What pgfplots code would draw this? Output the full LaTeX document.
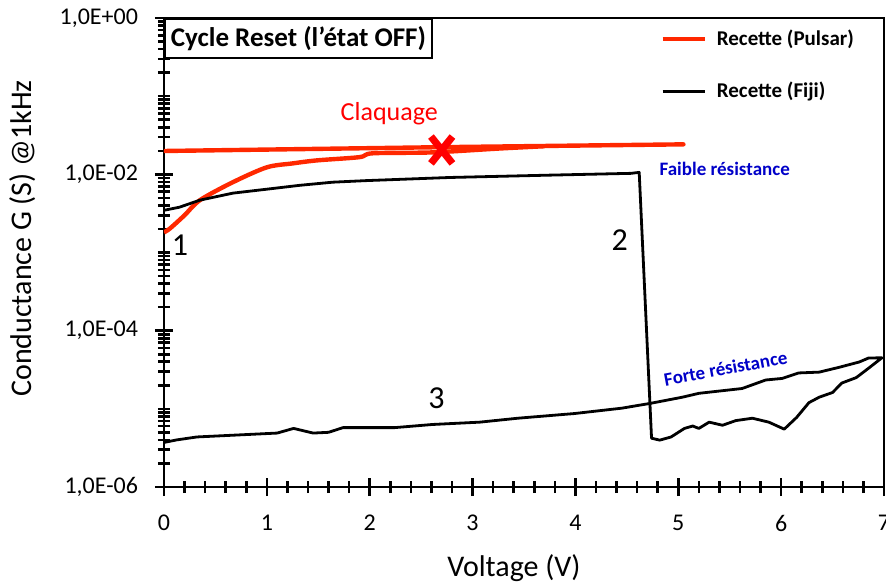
\documentclass[border=0pt]{standalone}
\usepackage{fontspec}
\setmainfont{Carlito}
\usepackage{pgfplots}
\pgfplotsset{compat=1.18}
\definecolor{pulsar}{RGB}{255,40,0}
\definecolor{claq}{RGB}{255,0,0}
\definecolor{annot}{RGB}{0,0,200}

\begin{document}
\begin{tikzpicture}
\begin{axis}[
    scale only axis,
    width=360pt, height=234.5pt,
    xmin=0, xmax=7,
    ymode=log, ymin=1e-6, ymax=1,
    xtick={0,1,2,3,4,5,6,7},
    minor xtick={0.2,0.4,0.6,0.8,1.2,1.4,1.6,1.8,2.2,2.4,2.6,2.8,3.2,3.4,3.6,3.8,
                 4.2,4.4,4.6,4.8,5.2,5.4,5.6,5.8,6.2,6.4,6.6,6.8},
    ytick={1e-6,1e-4,1e-2,1},
    yticklabels={{1,0E-06},{1,0E-04},{1,0E-02},{1,0E+00}},
    minor ytick={2e-6,3e-6,4e-6,5e-6,6e-6,7e-6,8e-6,9e-6,1e-5,
                 2e-5,3e-5,4e-5,5e-5,6e-5,7e-5,8e-5,9e-5,
                 2e-4,3e-4,4e-4,5e-4,6e-4,7e-4,8e-4,9e-4,1e-3,
                 2e-3,3e-3,4e-3,5e-3,6e-3,7e-3,8e-3,9e-3,
                 2e-2,3e-2,4e-2,5e-2,6e-2,7e-2,8e-2,9e-2,1e-1,
                 2e-1,3e-1,4e-1,5e-1,6e-1,7e-1,8e-1,9e-1},
    xtick pos=left, ytick pos=left,
    tick align=center,
    major tick length=9pt, minor tick length=6pt,
    tick style={black, line width=1.3pt},
    axis line style={line width=1.4pt},
    /pgf/number format/assume math mode=true,
    xticklabel style={font=\fontsize{12}{14}\selectfont, yshift=-6pt},
    yticklabel style={font=\fontsize{12}{14}\selectfont, xshift=-5pt},
    xlabel={Voltage (V)},
    ylabel={Conductance G (S) @1kHz},
    xlabel style={font=\fontsize{15}{18}\selectfont, at={(axis description cs:0.486,-0.173)}, anchor=center},
    ylabel style={font=\fontsize{15}{18}\selectfont, at={(axis description cs:-0.197,0.53)}, anchor=center},
    legend style={at={(rel axis cs:0.689,0.985)}, anchor=north west, draw=none, fill=none,
        font=\fontsize{10.5}{12}\selectfont\bfseries, row sep=13pt, column sep=3pt, inner sep=0pt},
    legend cell align=left,
    legend image code/.code={\draw[#1] (0pt,0pt) -- (21pt,0pt);},
]
% Recette (Pulsar): montee puis palier
\addplot[pulsar, line width=2.2pt, smooth] coordinates {
 (0,1.81e-3) (0.06,2.04e-3) (0.2,3.0e-3) (0.35,4.68e-3) (0.67,7.94e-3)
 (1.0,1.23e-2) (1.25,1.38e-2) (1.49,1.51e-2) (1.90,1.66e-2) (2.03,1.86e-2)
 (2.61,1.91e-2) (3.26,2.14e-2) (3.70,2.29e-2)};
\addlegendentry{Recette (Pulsar)}
\addplot[pulsar, line width=2.2pt, line cap=round, forget plot] coordinates {
 (0,0.0199) (2.73,0.0223) (5.05,0.0242)};

% Recette (Fiji): aller-retour
\addplot[black, line width=1.4pt, line join=round] coordinates {
 (0,3.47e-3) (0.15,3.8e-3) (0.35,4.68e-3) (0.67,5.75e-3) (1.0,6.46e-3)
 (1.32,7.24e-3) (1.64,7.94e-3) (1.97,8.32e-3) (2.78,9.12e-3) (3.75,9.77e-3)
 (4.54,1.03e-2) (4.62,1.06e-2) (4.74,4.21e-6) (4.82,3.98e-6) (4.93,4.37e-6)
 (5.06,5.62e-6) (5.14,6.03e-6) (5.20,5.62e-6) (5.30,6.76e-6) (5.43,6.17e-6)
 (5.56,7.08e-6) (5.72,7.59e-6) (5.88,6.76e-6) (6.03,5.50e-6) (6.15,7.76e-6)
 (6.27,1.20e-5) (6.37,1.41e-5) (6.50,1.62e-5) (6.59,2.14e-5) (6.73,2.51e-5)
 (6.85,3.31e-5) (6.98,4.5e-5)
 (6.85,4.47e-5) (6.76,3.98e-5) (6.56,3.39e-5) (6.37,2.95e-5) (6.17,2.88e-5)
 (6.01,2.45e-5) (5.85,2.34e-5) (5.62,1.82e-5) (5.20,1.58e-5) (5.04,1.41e-5)
 (4.72,1.17e-5) (4.45,1.02e-5) (3.99,8.71e-6) (3.44,7.59e-6) (3.07,6.76e-6)
 (2.61,6.31e-6) (2.24,5.75e-6) (1.74,5.75e-6) (1.60,5.01e-6) (1.45,4.90e-6)
 (1.26,5.62e-6) (1.10,4.90e-6) (0.32,4.37e-6) (0.12,4.0e-6) (0,3.72e-6)};
\addlegendentry{Recette (Fiji)}

% point de claquage
\addplot[claq, only marks, mark=x, mark size=9.5pt, line width=3.6pt,
         mark options={xscale=0.8}, forget plot]
 coordinates {(2.70,0.0205)};

\node[draw, line width=0.9pt, fill=white, anchor=north west, inner xsep=3pt,
      minimum height=19.5pt, font=\fontsize{13.5}{16}\selectfont\bfseries]
      at (rel axis cs:0,1) {Cycle Reset (l’état OFF)};
\node[claq, font=\fontsize{13}{15}\selectfont] at (axis cs:2.19,0.0603) {Claquage};
\node[font=\fontsize{16}{18}\selectfont] at (axis cs:0.155,1.23e-3) {1};
\node[font=\fontsize{16}{18}\selectfont] at (axis cs:4.43,1.45e-3) {2};
\node[font=\fontsize{16}{18}\selectfont] at (axis cs:2.65,1.38e-5) {3};
\node[annot, anchor=west, font=\fontsize{9.5}{11}\selectfont\bfseries]
      at (axis cs:4.75,0.0119) {Faible résistance};
\node[annot, rotate=10.5, font=\fontsize{9.5}{11}\selectfont\bfseries]
      at (axis cs:5.46,3.3e-5) {Forte résistance};
\end{axis}
\pgfresetboundingbox
\useasboundingbox ([xshift=-82pt,yshift=-49.5pt]current axis.south west)
    rectangle ([xshift=1pt,yshift=9pt]current axis.north east);
\end{tikzpicture}
\end{document}
